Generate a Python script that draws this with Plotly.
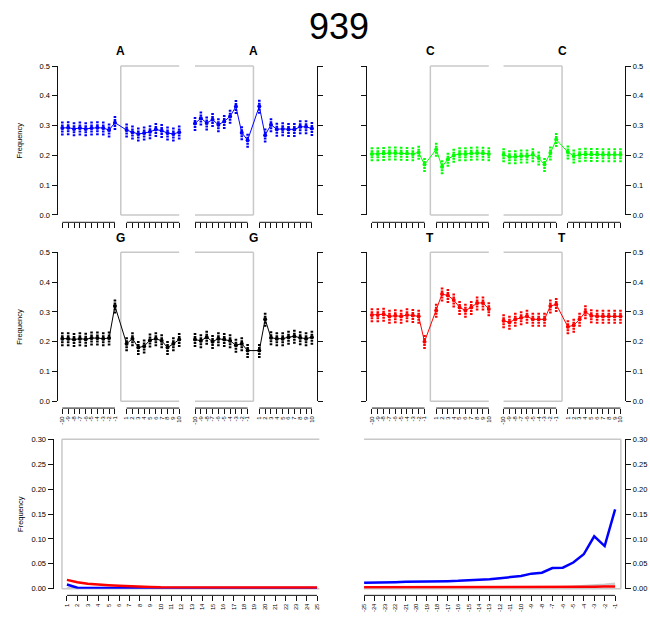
import plotly.graph_objects as go

W, H = 650, 624

# ---------------- data ----------------
POS = [-10, -9, -8, -7, -6, -5, -4, -3, -2, -1, 1, 2, 3, 4, 5, 6, 7, 8, 9, 10]
POS_LABELS = [str(p) for p in POS]
Y_TICKS = [0.0, 0.1, 0.2, 0.3, 0.4, 0.5]
Y_TICK_LABELS = ["0.0", "0.1", "0.2", "0.3", "0.4", "0.5"]
SPREAD = 0.025  # half-height of each replicate column

A_5p = [0.292, 0.293, 0.289, 0.292, 0.289, 0.292, 0.293, 0.292, 0.285, 0.310,
        0.285, 0.278, 0.272, 0.275, 0.279, 0.287, 0.283, 0.275, 0.272, 0.278]
A_3p = [0.307, 0.325, 0.309, 0.320, 0.303, 0.314, 0.331, 0.364, 0.276, 0.251,
        0.365, 0.268, 0.303, 0.288, 0.289, 0.287, 0.287, 0.296, 0.296, 0.290]
C_5p = [0.205, 0.205, 0.206, 0.208, 0.208, 0.207, 0.206, 0.205, 0.210, 0.169,
        0.220, 0.162, 0.187, 0.200, 0.205, 0.205, 0.207, 0.208, 0.207, 0.205]
C_3p = [0.202, 0.195, 0.195, 0.198, 0.198, 0.202, 0.191, 0.169, 0.208, 0.253,
        0.211, 0.198, 0.202, 0.204, 0.203, 0.203, 0.202, 0.202, 0.202, 0.202]
G_5p = [0.210, 0.210, 0.207, 0.210, 0.208, 0.212, 0.212, 0.210, 0.212, 0.320,
        0.193, 0.210, 0.180, 0.185, 0.205, 0.210, 0.203, 0.180, 0.193, 0.207]
G_3p = [0.207, 0.203, 0.215, 0.200, 0.210, 0.207, 0.203, 0.188, 0.193, 0.170,
        0.170, 0.275, 0.213, 0.210, 0.210, 0.215, 0.218, 0.213, 0.210, 0.215]
T_5p = [0.290, 0.290, 0.292, 0.285, 0.287, 0.285, 0.290, 0.288, 0.285, 0.200,
        0.305, 0.360, 0.355, 0.340, 0.315, 0.305, 0.315, 0.330, 0.330, 0.310]
T_3p = [0.270, 0.265, 0.275, 0.280, 0.285, 0.275, 0.275, 0.275, 0.320, 0.325,
        0.250, 0.255, 0.275, 0.300, 0.287, 0.285, 0.285, 0.285, 0.285, 0.285]

POS_5END = list(range(1, 26))
POS_3END = list(range(-25, 0))
RED_5END = [0.0178, 0.0130, 0.0099, 0.0079, 0.0072, 0.0060, 0.0046, 0.0040, 0.0033, 0.0028,
            0.0026, 0.0026, 0.0026, 0.0026, 0.0026, 0.0026, 0.0026, 0.0026, 0.0026, 0.0026,
            0.0026, 0.0026, 0.0026, 0.0026, 0.0026]
BLUE_5END = [0.0086, 0.0020, 0.0015, 0.0015, 0.0015, 0.0015, 0.0014, 0.0014, 0.0014, 0.0014,
             0.0013, 0.0013, 0.0013, 0.0013, 0.0013, 0.0013, 0.0013, 0.0013, 0.0013, 0.0013,
             0.0013, 0.0013, 0.0013, 0.0013, 0.0013]
GREY_5END = [0.0010, 0.0008, 0.0008, 0.0008, 0.0008, 0.0008, 0.0008, 0.0008, 0.0008, 0.0008,
             0.0008, 0.0008, 0.0008, 0.0008, 0.0008, 0.0008, 0.0008, 0.0008, 0.0008, 0.0008,
             0.0008, 0.0008, 0.0008, 0.0008, 0.0008]
BLUE_3END = [0.0119, 0.0119, 0.0125, 0.0132, 0.0138, 0.0138, 0.0145, 0.0145, 0.0152, 0.0158,
             0.0165, 0.0178, 0.0191, 0.0211, 0.0231, 0.0257, 0.0303, 0.0323, 0.0415, 0.0422,
             0.0527, 0.0692, 0.1054, 0.0857, 0.1595]
RED_3END = [0.0028, 0.0028, 0.0028, 0.0028, 0.0028, 0.0028, 0.0028, 0.0028, 0.0028, 0.0028,
            0.0028, 0.0028, 0.0028, 0.0028, 0.0028, 0.0028, 0.0029, 0.0030, 0.0031, 0.0032,
            0.0034, 0.0037, 0.0041, 0.0044, 0.0045]
GREY_3END = [0.0018, 0.0018, 0.0018, 0.0018, 0.0018, 0.0018, 0.0018, 0.0018, 0.0018, 0.0018,
             0.0018, 0.0018, 0.0019, 0.0019, 0.0020, 0.0021, 0.0022, 0.0023, 0.0026, 0.0030,
             0.0038, 0.0048, 0.0060, 0.0078, 0.0098]
BOTTOM_Y_TICKS = [0.0, 0.05, 0.10, 0.15, 0.20, 0.25, 0.30]

TITLE = "939"
FONT = "Liberation Sans, Arial, Helvetica, sans-serif"

# ---------------- helpers ----------------
def fx(p):
    return p / W

def fy(p):
    return 1 - p / H

fig = go.Figure()
layout = {}
shapes = []
annotations = []
counter = [0]

def new_ids():
    counter[0] += 1
    n = counter[0]
    s = "" if n == 1 else str(n)
    return "xaxis" + s, "yaxis" + s, "x" + s, "y" + s

AX_LINE = dict(showline=True, linecolor="#111111", linewidth=1.3,
               ticks="outside", ticklen=5, tickwidth=1.2, tickcolor="#111111",
               showgrid=False, zeroline=False)
TICKFONT = dict(family=FONT, size=7.5, color="black")
XTICKFONT = dict(family=FONT, size=5.8, color="black")
BOX_GREY = "#c8c8c8"
BOX_LINE = dict(color=BOX_GREY, width=1.5)


def seg(xref, yref, x0, x1, y0, y1):
    shapes.append(dict(type="line", xref=xref, yref=yref, x0=x0, x1=x1, y0=y0, y1=y1,
                       line=BOX_LINE, layer="below"))


def top_panel(row_top, row_bot, tick_y, dom_a, dom_b, letter, color,
              vals_a, vals_b, labels_left, show_xlabels):
    neg = [p for p in POS if p < 0]
    pos = [p for p in POS if p > 0]
    for sub, (dom, vals) in enumerate([(dom_a, vals_a), (dom_b, vals_b)]):
        xk, yk, xr, yr = new_ids()
        layout[xk] = dict(domain=[fx(dom[0]), fx(dom[1])], range=[-10.8, 10.8],
                          anchor="free", position=fy(tick_y),
                          tickvals=POS, ticktext=POS_LABELS, ticks="outside",
                          ticklen=5, tickwidth=1, tickcolor="#111111",
                          showline=False, showgrid=False, zeroline=False,
                          showticklabels=show_xlabels, tickangle=-90,
                          tickfont=XTICKFONT)
        side = "left" if sub == 0 else "right"
        show_lab = labels_left if sub == 0 else (not labels_left)
        layout[yk] = dict(AX_LINE, domain=[fy(row_bot), fy(row_top)], range=[0, 0.5],
                          anchor=xr, side=side, tickvals=Y_TICKS, ticktext=Y_TICK_LABELS,
                          showticklabels=show_lab, tickfont=TICKFONT)
        # grey open box (open towards the centre of the pair)
        yd = yr + " domain"
        if sub == 0:
            edge, far = 0, max(POS)
        else:
            edge, far = 0, min(POS)
        seg(xr, yd, edge, far, 1, 1)
        seg(xr, yd, edge, far, 0, 0)
        seg(xr, yd, edge, edge, 0, 1)
        # replicate columns
        cx, cy = [], []
        for p, v in zip(POS, vals):
            cx += [p, p, None]
            cy += [v - SPREAD, v + SPREAD, None]
        fig.add_trace(go.Scatter(x=cx, y=cy, xaxis=xr, yaxis=yr, mode="lines",
                                 line=dict(color=color, width=2.6, dash="2px,1px"),
                                 hoverinfo="skip", showlegend=False))
        fig.add_trace(go.Scatter(x=POS, y=vals, xaxis=xr, yaxis=yr, mode="lines+markers",
                                 line=dict(color=color, width=1),
                                 marker=dict(color=color, size=4),
                                 cliponaxis=False, showlegend=False))
        # tick base lines
        for grp in (neg, pos):
            shapes.append(dict(type="line", xref=xr, yref="paper", x0=min(grp), x1=max(grp),
                               y0=fy(tick_y), y1=fy(tick_y),
                               line=dict(color="#111111", width=1)))
        # letter title
        annotations.append(dict(text="<b>%s</b>" % letter, xref=xr, yref="paper", x=0,
                                y=fy(row_top - 15), yanchor="middle", xanchor="center",
                                showarrow=False,
                                font=dict(family=FONT, size=12, color="black")))


# row 1
top_panel(63, 214, 221.5, (55, 182), (188.5, 315.5), "A", "#0000ff", A_5p, A_3p, True, False)
top_panel(63, 214, 221.5, (366.5, 493.5), (499, 626), "C", "#00ff00", C_5p, C_3p, False, False)
# row 2
top_panel(252, 403, 410, (55, 182), (188.5, 315.5), "G", "#000000", G_5p, G_3p, True, True)
top_panel(252, 403, 410, (366.5, 493.5), (499, 626), "T", "#ff0000", T_5p, T_3p, False, True)

# frequency labels
for yc in [(63 + 214) / 2, (252 + 403) / 2, (441.7 + 593.3) / 2]:
    annotations.append(dict(text="Frequency", xref="paper", yref="paper", x=fx(17), y=fy(yc),
                            textangle=-90, showarrow=False, xanchor="center", yanchor="middle",
                            font=dict(family=FONT, size=7.5, color="black")))


def bottom_panel(dom, xrange, xvals, series, axis_x, side):
    xk, yk, xr, yr = new_ids()
    layout[xk] = dict(domain=[fx(dom[0]), fx(dom[1])], range=xrange, anchor="free",
                      position=fy(600), tickvals=xvals, ticktext=[str(v) for v in xvals],
                      ticks="outside", ticklen=5, tickwidth=1, tickcolor="#111111",
                      showline=False, showgrid=False, zeroline=False, tickangle=-90,
                      tickfont=XTICKFONT)
    layout[yk] = dict(AX_LINE, domain=[fy(593.3), fy(441.7)], range=[0, 0.30],
                      anchor="free", position=fx(axis_x), side=side,
                      tickvals=BOTTOM_Y_TICKS, tickformat=".2f", tickfont=TICKFONT)
    xd, yd = xr + " domain", yr + " domain"
    seg(xd, yd, 0, 1, 1, 1)
    seg(xd, yd, 0, 1, 0, 0)
    if side == "left":
        seg(xd, yd, 0, 0, 0, 1)
    else:
        seg(xd, yd, 1, 1, 0, 1)
    for vals, col in series:
        fig.add_trace(go.Scatter(x=xvals, y=vals, xaxis=xr, yaxis=yr, mode="lines",
                                 line=dict(color=col, width=2.5), showlegend=False))
    shapes.append(dict(type="line", xref=xr, yref="paper", x0=min(xvals), x1=max(xvals),
                       y0=fy(600), y1=fy(600), line=dict(color="#111111", width=1)))


bottom_panel((59.3, 318.3), [0.52, 25.22], POS_5END,
             [(GREY_5END, "#cccccc"), (BLUE_5END, "#0000ff"), (RED_5END, "#ff0000")], 50, "left")
bottom_panel((363.3, 621.7), [-25.0, -0.45], POS_3END,
             [(GREY_3END, "#cccccc"), (BLUE_3END, "#0000ff"), (RED_3END, "#ff0000")], 626, "right")

annotations.append(dict(text=TITLE, xref="paper", yref="paper", x=fx(338), y=fy(23),
                        xanchor="center", yanchor="middle",
                        showarrow=False, font=dict(family=FONT, size=36, color="black")))

fig.update_layout(width=W, height=H, margin=dict(l=0, r=0, t=0, b=0),
                  paper_bgcolor="white", plot_bgcolor="white",
                  shapes=shapes, annotations=annotations, showlegend=False, **layout)

fig.write_html("out.html")
